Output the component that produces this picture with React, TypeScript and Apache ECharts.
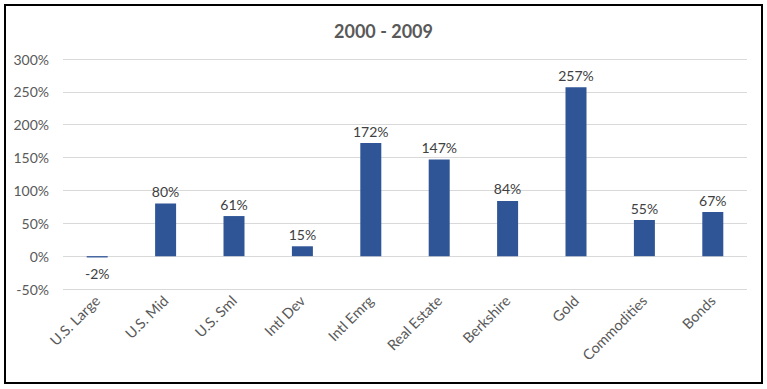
import React, { useEffect, useRef } from "react";
import * as echarts from "echarts";

const titleText = "2000 - 2009";
const categories = ["U.S. Large", "U.S. Mid", "U.S. Sml", "Intl Dev", "Intl Emrg", "Real Estate", "Berkshire", "Gold", "Commodities", "Bonds"];
const returnsPct = [-2, 80, 61, 15, 172, 147, 84, 257, 55, 67];
const yMin = -50;
const yMax = 300;
const yStep = 50;

const FONT = "Lato, 'Open Sans', 'Liberation Sans', sans-serif";

export default function App() {
  const ref = useRef<HTMLDivElement>(null);
  useEffect(() => {
    if (!ref.current) return;
    const chart = echarts.init(ref.current, undefined, { renderer: "svg" });
    chart.setOption({
      animation: false,
      backgroundColor: "#ffffff",
      textStyle: { fontFamily: FONT },
      title: {
        text: titleText,
        left: "center",
        top: 17,
        textStyle: { fontFamily: FONT, fontSize: 18, fontWeight: "bold", color: "#595959" },
      },
      graphic: [
        {
          type: "rect",
          shape: { x: 5, y: 5, width: 757, height: 378 },
          style: { fill: "none", stroke: "#000000", lineWidth: 2 },
          silent: true,
        },
      ],
      grid: { left: 63, right: 20, top: 59, bottom: 100, containLabel: false },
      xAxis: {
        type: "category",
        data: categories,
        position: "bottom",
        axisLine: { show: false, onZero: false },
        axisTick: { show: false },
        axisLabel: {
          interval: 0,
          rotate: 45,
          margin: 9,
          fontSize: 14.5,
          color: "#595959",
          fontFamily: FONT,
        },
      },
      yAxis: {
        type: "value",
        min: yMin,
        max: yMax,
        interval: yStep,
        axisLine: { show: false },
        axisTick: { show: false },
        splitLine: { lineStyle: { color: "#d9d9d9", width: 1 } },
        axisLabel: {
          formatter: "{value}%",
          fontSize: 14,
          margin: 14,
          color: "#595959",
          fontFamily: FONT,
        },
      },
      series: [
        {
          type: "bar",
          barWidth: 21,
          itemStyle: { color: "#2F5597" },
          label: {
            show: true,
            position: "top",
            distance: 5,
            formatter: "{c}%",
            fontSize: 14,
            color: "#404040",
            fontFamily: FONT,
          },
          data: returnsPct.map((v) =>
            v < 0 ? { value: v, label: { position: "bottom", distance: 9 } } : v
          ),
        },
      ],
    });
    return () => chart.dispose();
  }, []);
  return (
    <div
      ref={ref}
      style={{ position: "fixed", left: 0, top: 0, width: 767, height: 389 }}
    />
  );
}
